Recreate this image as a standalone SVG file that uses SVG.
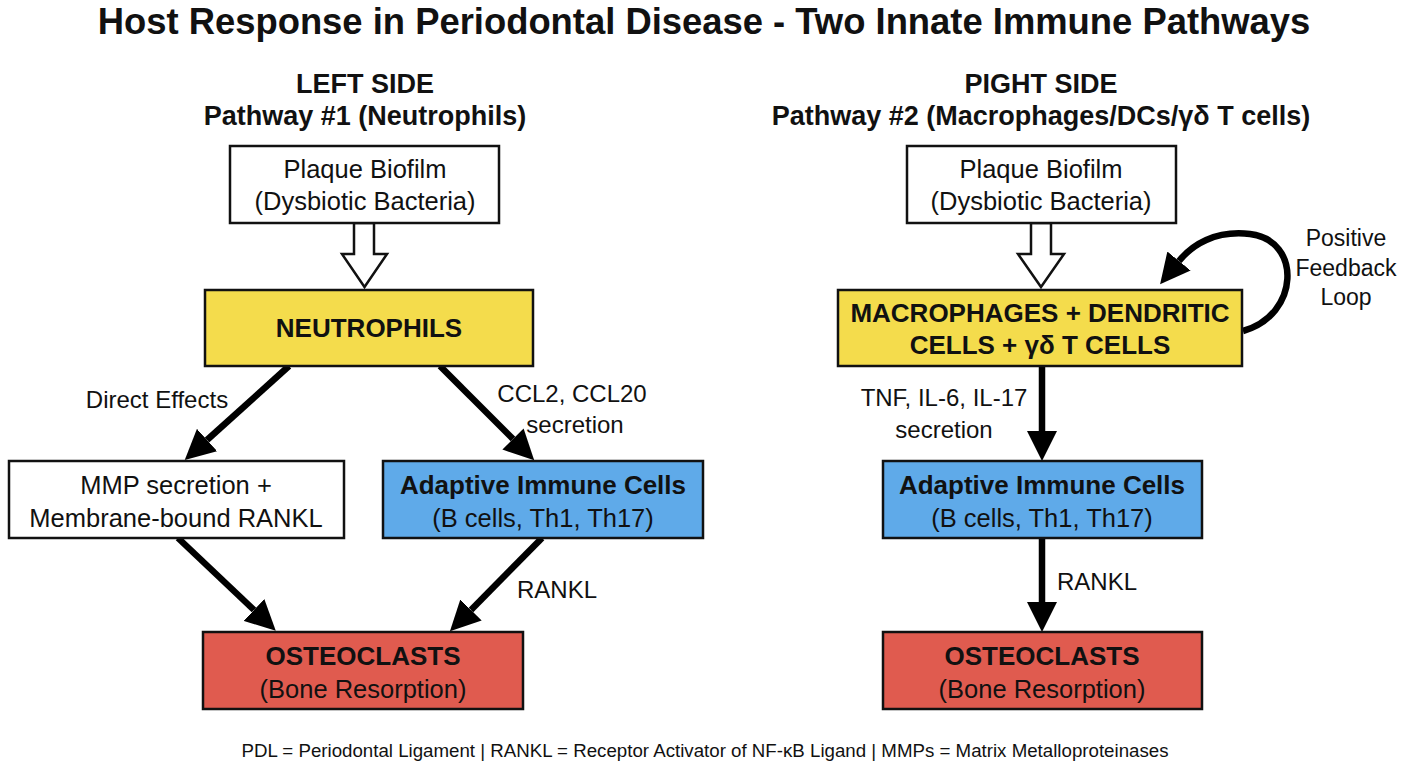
<svg xmlns="http://www.w3.org/2000/svg" width="1408" height="768" viewBox="0 0 1408 768">
  <style>
    text { font-family: "Liberation Sans", Arial, sans-serif; fill: #111; text-anchor: middle; }
    .title { font-size: 36.4px; font-weight: bold; }
    .head { font-size: 27px; font-weight: bold; }
    .node { stroke: #111; stroke-width: 2.5; }
    .plain { fill: #ffffff; }
    .yellow { fill: #F4DC4C; }
    .blue { fill: #5FAAE9; }
    .red { fill: #E05B4F; }
    .nt { font-size: 25.5px; }
    .nb { font-size: 26px; font-weight: bold; }
    .lbl { font-size: 24px; }
    .loop { font-size: 23px; }
    .foot { font-size: 18.7px; }
    .conn { stroke: #000; stroke-width: 6.5; fill: none; }
    .hollow { fill: #fff; stroke: #111; stroke-width: 2.5; stroke-linejoin: miter; }
  </style>
  <defs>
    <marker id="head" viewBox="0 0 10 10" refX="0" refY="5" markerUnits="userSpaceOnUse" markerWidth="30" markerHeight="30" orient="auto">
      <path d="M0,0 L10,5 L0,10 Z" fill="#000"/>
    </marker>
  </defs>

  <rect width="1408" height="768" fill="#ffffff"/>

  <text class="title" x="704" y="34">Host Response in Periodontal Disease - Two Innate Immune Pathways</text>

  <text class="head" x="365" y="93">LEFT SIDE</text>
  <text class="head" x="365" y="125">Pathway #1 (Neutrophils)</text>
  <text class="head" x="1041" y="93">PIGHT SIDE</text>
  <text class="head" x="1041" y="125">Pathway #2 (Macrophages/DCs/γδ T cells)</text>

  <!-- connectors -->
  <g id="connectors">
    <!-- hollow block arrows from plaque to first responders -->
    <polygon class="hollow" points="354,223 374,223 374,254 387,254 364.5,287 342,254 354,254"/>
    <polygon class="hollow" points="1031,223 1051,223 1051,254 1064,254 1041,287 1018,254 1031,254"/>
    <!-- left pathway -->
    <line class="conn" x1="289" y1="366" x2="207" y2="440" marker-end="url(#head)"/>
    <line class="conn" x1="440" y1="366" x2="513" y2="439" marker-end="url(#head)"/>
    <line class="conn" x1="178" y1="538" x2="254" y2="610" marker-end="url(#head)"/>
    <line class="conn" x1="542" y1="538" x2="471" y2="610" marker-end="url(#head)"/>
    <!-- right pathway -->
    <line class="conn" x1="1042" y1="366" x2="1042" y2="431" marker-end="url(#head)"/>
    <line class="conn" x1="1042" y1="538" x2="1042" y2="602" marker-end="url(#head)"/>
    <!-- positive feedback loop -->
    <path class="conn" stroke-width="5.5" d="M1243,331 C1300,315 1302,240 1250,234 C1215,230 1192,245 1179,261" marker-end="url(#head)"/>
  </g>

  <!-- edge labels -->
  <text class="lbl" x="157" y="408">Direct Effects</text>
  <text class="lbl" x="572" y="402">CCL2, CCL20</text>
  <text class="lbl" x="575" y="433">secretion</text>
  <text class="lbl" x="557" y="598">RANKL</text>
  <text class="lbl" x="944" y="406">TNF, IL-6, IL-17</text>
  <text class="lbl" x="944" y="438">secretion</text>
  <text class="lbl" x="1097" y="590">RANKL</text>
  <text class="loop" x="1346" y="246">Positive</text>
  <text class="loop" x="1346" y="276">Feedback</text>
  <text class="loop" x="1346" y="305">Loop</text>

  <!-- left pathway nodes -->
  <g id="plaque-left">
    <rect class="node plain" x="230" y="146" width="269" height="77"/>
    <text class="nt" x="365" y="178">Plaque Biofilm</text>
    <text class="nt" x="365" y="210">(Dysbiotic Bacteria)</text>
  </g>
  <g id="neutrophils">
    <rect class="node yellow" x="205" y="290" width="328" height="76"/>
    <text class="nb" x="369" y="337">NEUTROPHILS</text>
  </g>
  <g id="mmp-rankl">
    <rect class="node plain" x="9" y="461" width="335" height="77"/>
    <text class="nt" x="176" y="494">MMP secretion +</text>
    <text class="nt" x="176" y="527">Membrane-bound RANKL</text>
  </g>
  <g id="adaptive-left">
    <rect class="node blue" x="383" y="461" width="320" height="77"/>
    <text class="nb" x="543" y="494">Adaptive Immune Cells</text>
    <text class="nt" x="543" y="527">(B cells, Th1, Th17)</text>
  </g>
  <g id="osteoclasts-left">
    <rect class="node red" x="203" y="632" width="320" height="77"/>
    <text class="nb" x="363" y="665">OSTEOCLASTS</text>
    <text class="nt" x="363" y="698">(Bone Resorption)</text>
  </g>

  <!-- right pathway nodes -->
  <g id="plaque-right">
    <rect class="node plain" x="907" y="146" width="269" height="77"/>
    <text class="nt" x="1041" y="178">Plaque Biofilm</text>
    <text class="nt" x="1041" y="210">(Dysbiotic Bacteria)</text>
  </g>
  <g id="macrophages">
    <rect class="node yellow" x="838" y="290" width="404" height="76"/>
    <text class="nb" x="1040" y="322">MACROPHAGES + DENDRITIC</text>
    <text class="nb" x="1040" y="354">CELLS + γδ T CELLS</text>
  </g>
  <g id="adaptive-right">
    <rect class="node blue" x="883" y="461" width="319" height="77"/>
    <text class="nb" x="1042" y="494">Adaptive Immune Cells</text>
    <text class="nt" x="1042" y="527">(B cells, Th1, Th17)</text>
  </g>
  <g id="osteoclasts-right">
    <rect class="node red" x="883" y="632" width="319" height="77"/>
    <text class="nb" x="1042" y="665">OSTEOCLASTS</text>
    <text class="nt" x="1042" y="698">(Bone Resorption)</text>
  </g>

  <text class="foot" x="705" y="757">PDL = Periodontal Ligament | RANKL = Receptor Activator of NF-κB Ligand | MMPs = Matrix Metalloproteinases</text>
</svg>
